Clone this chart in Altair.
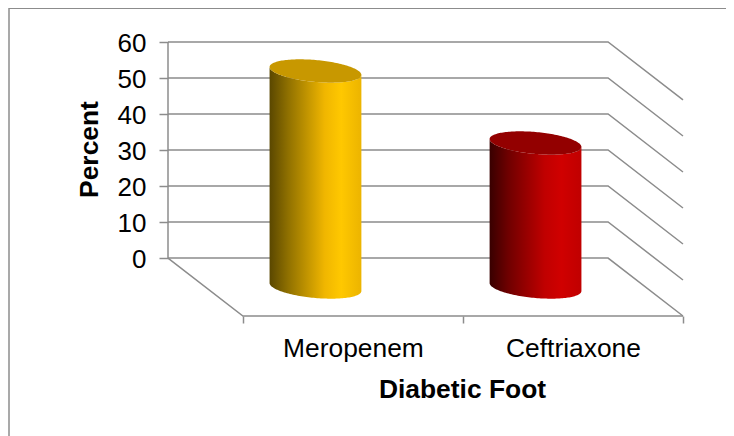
import numpy as np
import pandas as pd
import altair as alt

categories = ["Meropenem", "Ceftriaxone"]
values = [60, 40]
y_ticks = [0, 10, 20, 30, 40, 50, 60]
body_stops = [
    [("#5a4700", 0), ("#8f7000", 0.2), ("#f0b600", 0.6), ("#ffc800", 0.78), ("#ecb400", 1)],
    [("#380000", 0), ("#6e0000", 0.2), ("#c00000", 0.6), ("#d00000", 0.78), ("#c00000", 1)],
]
cap_colors = ["#c89800", "#930000"]
line_color = "#8c8c8c"
font = "Liberation Sans"

# projection of the 3D box, in axis units
DX = 0.3405   # sideways shift of the depth axis
DY = 16.1     # downward shift of the depth axis
X_MIN, X_MAX = -DX, 2
Y_MIN, Y_MAX = -DY, 60
xs = alt.Scale(domain=[X_MIN, X_MAX], nice=False, zero=False)
ys = alt.Scale(domain=[Y_MIN, Y_MAX], nice=False, zero=False)

# wall and floor lines
rows = []
for v in y_ticks:
    pts = [(X_MIN, v), (2 - DX, v), (2, v - DY)]
    rows += [dict(g=f"t{v}", i=i, px=p[0], py=p[1]) for i, p in enumerate(pts)]
rows += [dict(g="floor", i=i, px=p[0], py=p[1]) for i, p in enumerate([(X_MIN, 0), (0, -DY), (2, -DY)])]
rows += [dict(g="wall", i=i, px=X_MIN, py=p) for i, p in enumerate([0, 60])]
lines = alt.Chart(pd.DataFrame(rows)).mark_line(color=line_color, strokeWidth=1.5).encode(
    x=alt.X("px:Q", scale=xs, axis=alt.Axis(
        values=[0, 0.5, 1, 1.5, 2],
        labelExpr=f"datum.value==0.5?'{categories[0]}':datum.value==1.5?'{categories[1]}':''",
        tickOpacity={"condition": {"test": "datum.value==0.5||datum.value==1.5", "value": 0}, "value": 1},
        domain=False, grid=False, tickSize=7, tickColor=line_color, tickWidth=1.5,
        labelFont=font, labelFontSize=26.4, labelColor="#000000", labelPadding=12,
        labelOverlap=False, labelFlush=False, labelBound=False,
        title="Diabetic Foot", titleFont=font, titleFontSize=26.4, titleFontWeight="bold",
        titleColor="#000000", titleX=294, titleY=60, titleAnchor="middle",
    )),
    y=alt.Y("py:Q", scale=ys, axis=alt.Axis(
        values=y_ticks, domain=False, grid=False, tickSize=9, tickColor=line_color, tickWidth=1.5,
        labelFont=font, labelFontSize=26, labelColor="#000000", labelPadding=13, labelOffset=1,
        title="Percent", titleFont=font, titleFontSize=26.4, titleFontWeight="bold",
        titleColor="#000000", titleX=-65, titleY=107, titleAnchor="middle",
    )),
    detail="g:N",
    order="i:Q",
)

# cylinders, standing half way into the depth of the box
HALF_W = 0.2086
RY = 3.05
SKEW = 1.1
u = np.cos(np.linspace(np.pi, 0, 81))
root = np.sqrt(np.clip(1 - u ** 2, 0, 1))
layers = [lines]
for k, val in enumerate(values):
    cx = k + 0.5 - DX / 2
    base = -DY / 2
    top = base + val
    d = pd.DataFrame({
        "px": cx + HALF_W * u,
        "body_top": top - SKEW * u - RY * root,
        "body_bottom": base - SKEW * u - RY * root,
        "cap_up": top - SKEW * u + RY * root,
        "cap_low": top - SKEW * u - RY * root,
    })
    grad = alt.Gradient(
        gradient="linear", x1=0, x2=1, y1=0, y2=0,
        stops=[alt.GradientStop(color=c, offset=o) for c, o in body_stops[k]],
    )
    layers.append(alt.Chart(d).mark_area(color=grad, orient="vertical", interpolate="linear").encode(
        x=alt.X("px:Q", scale=xs, axis=None),
        y=alt.Y("body_top:Q", scale=ys, axis=None),
        y2="body_bottom:Q",
    ))
    layers.append(alt.Chart(d).mark_area(color=cap_colors[k], orient="vertical", interpolate="linear").encode(
        x=alt.X("px:Q", scale=xs, axis=None),
        y=alt.Y("cap_up:Q", scale=ys, axis=None),
        y2="cap_low:Q",
    ))

# outer frame of the chart object
one = pd.DataFrame({"a": [0]})
layers.append(alt.Chart(one).mark_rule(color="#8c8c8c", strokeWidth=1.5).encode(
    x=alt.value(-159), y=alt.value(-34), y2=alt.value(394)))
layers.append(alt.Chart(one).mark_rule(color="#8c8c8c", strokeWidth=1.5).encode(
    x=alt.value(-159), x2=alt.value(566), y=alt.value(-33.8)))

chart = alt.layer(*layers).resolve_axis(x="independent", y="independent").properties(
    width=515, height=274,
    autosize=alt.AutoSizeParams(type="none"),
    padding={"left": 160, "top": 34, "right": 43, "bottom": 120},
    background="white",
).configure_view(stroke=None)

chart.save("out.html", embed_options={"renderer": "svg", "actions": False})
